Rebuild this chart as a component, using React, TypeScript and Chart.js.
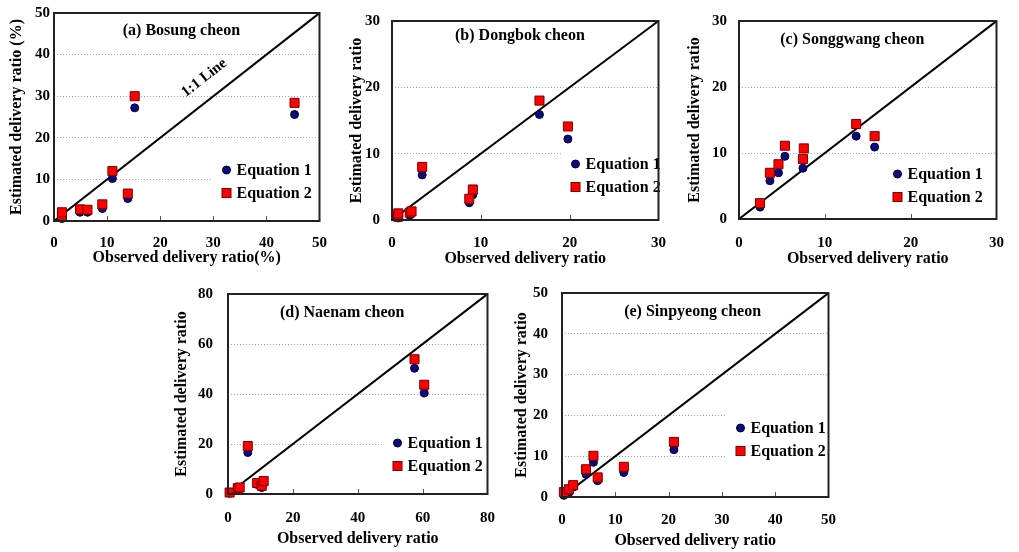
import React, { useEffect, useRef } from "react";
import { Chart, registerables } from "chart.js";
Chart.register(...registerables);

// ---------- DATA ----------
// (a) Bosung cheon
const bosungObserved = [1.5, 1.5, 4.9, 6.3, 9.1, 11.0, 13.9, 15.2, 45.3];
const bosungEq1 = [0.6, 1.0, 2.1, 2.1, 3.0, 10.2, 5.4, 27.2, 25.6];
const bosungEq2 = [1.3, 2.1, 2.8, 2.7, 4.0, 12.0, 6.6, 30.0, 28.4];
const bosungTicks = [0, 10, 20, 30, 40, 50];

// (b) Dongbok cheon
const dongbokObserved = [0.7, 0.7, 2.0, 2.2, 3.4, 8.7, 9.1, 16.6, 19.8];
const dongbokEq1 = [0.3, 0.6, 0.7, 1.0, 6.8, 2.6, 3.8, 15.9, 12.2];
const dongbokEq2 = [0.5, 1.0, 1.1, 1.3, 8.0, 3.2, 4.6, 18.0, 14.1];
const dongbokTicks = [0, 10, 20, 30];

// (c) Songgwang cheon
const songgwangObserved = [2.45, 3.6, 4.6, 5.35, 7.45, 7.55, 13.65, 15.8];
const songgwangEq1 = [1.8, 5.8, 7.0, 9.5, 7.7, 9.2, 12.55, 10.9];
const songgwangEq2 = [2.4, 7.0, 8.3, 11.1, 9.1, 10.7, 14.4, 12.55];
const songgwangTicks = [0, 10, 20, 30];

// (d) Naenam cheon
const naenamObserved = [0.5, 3.0, 3.6, 6.1, 9.0, 10.4, 11.0, 57.5, 60.5];
const naenamEq1 = [0.3, 1.8, 2.2, 16.6, 3.8, 2.6, 4.2, 50.3, 40.4];
const naenamEq2 = [0.6, 2.3, 2.6, 19.2, 4.4, 3.3, 5.2, 53.9, 43.7];
const naenamTicks = [0, 20, 40, 60, 80];

// (e) Sinpyeong cheon
const sinpyeongObserved = [0.35, 1.3, 2.1, 4.5, 5.9, 6.7, 11.6, 21.0];
const sinpyeongEq1 = [0.4, 1.1, 2.4, 5.6, 8.5, 4.0, 6.0, 11.6];
const sinpyeongEq2 = [1.2, 1.9, 2.9, 6.8, 10.1, 4.8, 7.4, 13.5];
const sinpyeongTicks = [0, 10, 20, 30, 40, 50];

const seriesLabels = ["Equation 1", "Equation 2"];
const lineLabel = "1:1 Line";
const xTitle = "Observed delivery ratio";
const yTitle = "Estimated delivery ratio";

// ---------- LAYOUT / STYLE ----------
const FONT = "'Liberation Serif', 'DejaVu Serif', serif";

type PanelSpec = {
  title: string;
  observed: number[];
  eq1: number[];
  eq2: number[];
  ticks: number[];
  xTitle: string;
  yTitle: string;
  box: { left: number; top: number; width: number; height: number };
  padTop: number;
  padRight: number;
  yWidth: number;
  xHeight: number;
  yTitlePad: number;
  yTickPad: number;
  xTickPad: number;
  xTitlePad: number;
  titleFrac: number;
  titleDy: number;
  legendDx: number;
  legendDy: number;
  lineLabelAt?: [number, number];
};

const panels: PanelSpec[] = [
  {
    title: "(a) Bosung cheon",
    observed: bosungObserved, eq1: bosungEq1, eq2: bosungEq2, ticks: bosungTicks,
    xTitle: xTitle + "(%)", yTitle: yTitle + " (%)",
    box: { left: 0, top: 0, width: 340, height: 270 },
    padTop: 12, padRight: 5, yWidth: 54, xHeight: 49,
    yTitlePad: 7, yTickPad: 4, xTickPad: 13, xTitlePad: 3,
    titleFrac: 0.48, titleDy: 18, legendDx: 93, legendDy: 51,
    lineLabelAt: [28.3, 34.4],
  },
  {
    title: "(b) Dongbok cheon",
    observed: dongbokObserved, eq1: dongbokEq1, eq2: dongbokEq2, ticks: dongbokTicks,
    xTitle, yTitle,
    box: { left: 340, top: 0, width: 340, height: 270 },
    padTop: 10, padRight: 5, yWidth: 52, xHeight: 50,
    yTitlePad: 7, yTickPad: 12, xTickPad: 14, xTitlePad: 2,
    titleFrac: 0.48, titleDy: 15, legendDx: 83, legendDy: 56,
  },
  {
    title: "(c) Songgwang cheon",
    observed: songgwangObserved, eq1: songgwangEq1, eq2: songgwangEq2, ticks: songgwangTicks,
    xTitle, yTitle,
    box: { left: 680, top: 0, width: 339, height: 270 },
    padTop: 13, padRight: 6, yWidth: 59, xHeight: 51,
    yTitlePad: 5, yTickPad: 12, xTickPad: 15, xTitlePad: 2,
    titleFrac: 0.44, titleDy: 19, legendDx: 99, legendDy: 45,
  },
  {
    title: "(d) Naenam cheon",
    observed: naenamObserved, eq1: naenamEq1, eq2: naenamEq2, ticks: naenamTicks,
    xTitle, yTitle,
    box: { left: 170, top: 270, width: 340, height: 282 },
    padTop: 20, padRight: 7, yWidth: 58, xHeight: 58,
    yTitlePad: 2, yTickPad: 15, xTickPad: 15, xTitlePad: 4,
    titleFrac: 0.44, titleDy: 19, legendDx: 90, legendDy: 51,
  },
  {
    title: "(e) Sinpyeong cheon",
    observed: sinpyeongObserved, eq1: sinpyeongEq1, eq2: sinpyeongEq2, ticks: sinpyeongTicks,
    xTitle, yTitle,
    box: { left: 505, top: 270, width: 345, height: 282 },
    padTop: 21, padRight: 5, yWidth: 57, xHeight: 55,
    yTitlePad: 7, yTickPad: 14, xTickPad: 14, xTitlePad: 2,
    titleFrac: 0.49, titleDy: 19, legendDx: 88, legendDy: 69,
  },
];

const EQ1_FILL = "#0b0b7a";
const EQ1_BORDER = "#00003a";
const EQ2_FILL = "#ff0000";
const EQ2_BORDER = "#7a0000";

function drawMarker(ctx: CanvasRenderingContext2D, kind: "circle" | "rect", x: number, y: number) {
  ctx.save();
  ctx.lineWidth = 1;
  if (kind === "circle") {
    ctx.fillStyle = EQ1_FILL;
    ctx.strokeStyle = EQ1_BORDER;
    ctx.beginPath();
    ctx.arc(x, y, 4, 0, Math.PI * 2);
    ctx.fill();
    ctx.stroke();
  } else {
    ctx.fillStyle = EQ2_FILL;
    ctx.strokeStyle = EQ2_BORDER;
    ctx.fillRect(x - 4.5, y - 4.5, 9, 9);
    ctx.strokeRect(x - 4.5, y - 4.5, 9, 9);
  }
  ctx.restore();
}

function makeDecor(p: PanelSpec) {
  return {
    id: "decor",
    beforeDatasetsDraw(chart: any) {
      const { ctx, chartArea: a, scales } = chart;
      const xs = scales.x;
      ctx.save();
      ctx.strokeStyle = "#555";
      ctx.lineWidth = 1;
      p.ticks.forEach((t, i) => {
        if (i === 0 || i === p.ticks.length - 1) return;
        const px = Math.round(xs.getPixelForValue(t)) + 0.5;
        ctx.beginPath();
        ctx.moveTo(px, a.bottom);
        ctx.lineTo(px, a.bottom - 5);
        ctx.stroke();
      });
      ctx.restore();
    },
    afterDatasetsDraw(chart: any) {
      const { ctx, chartArea: a, scales } = chart;
      ctx.save();
      // legend
      const mx = a.right - p.legendDx;
      const my1 = a.bottom - p.legendDy;
      const my2 = my1 + 23;
      ctx.fillStyle = "#fff";
      ctx.fillRect(mx - 14, my1 - 13, a.right - (mx - 14) - 1, my2 - my1 + 26);
      drawMarker(ctx, "circle", mx, my1);
      drawMarker(ctx, "rect", mx, my2);
      ctx.fillStyle = "#000";
      ctx.font = `bold 16px ${FONT}`;
      ctx.textAlign = "left";
      ctx.textBaseline = "middle";
      ctx.fillText(seriesLabels[0], mx + 10, my1 + 1);
      ctx.fillText(seriesLabels[1], mx + 10, my2 + 1);
      // panel title
      ctx.textAlign = "center";
      ctx.fillText(p.title, a.left + (a.right - a.left) * p.titleFrac, a.top + p.titleDy);
      // 1:1 label
      if (p.lineLabelAt) {
        const xs = scales.x, ys = scales.y;
        const ang = Math.atan2(
          ys.getPixelForValue(p.ticks[p.ticks.length - 1]) - ys.getPixelForValue(0),
          xs.getPixelForValue(p.ticks[p.ticks.length - 1]) - xs.getPixelForValue(0)
        );
        ctx.translate(xs.getPixelForValue(p.lineLabelAt[0]), ys.getPixelForValue(p.lineLabelAt[1]));
        ctx.rotate(ang);
        ctx.font = `bold 15px ${FONT}`;
        ctx.fillText(lineLabel, 0, 0);
        ctx.setTransform(1, 0, 0, 1, 0, 0);
      }
      // frame
      ctx.strokeStyle = "#222";
      ctx.lineWidth = 2;
      ctx.strokeRect(a.left, a.top, a.right - a.left, a.bottom - a.top);
      ctx.restore();
    },
  };
}

function makeConfig(p: PanelSpec): any {
  const max = p.ticks[p.ticks.length - 1];
  const step = p.ticks[1] - p.ticks[0];
  const tickFont = { family: FONT, size: 15, weight: "bold" as const };
  const titleFont = { family: FONT, size: 16, weight: "bold" as const };
  return {
    type: "scatter",
    data: {
      datasets: [
        {
          label: seriesLabels[1],
          data: p.observed.map((x, i) => ({ x, y: p.eq2[i] })),
          pointStyle: "rect",
          pointRadius: 6.4,
          backgroundColor: EQ2_FILL,
          borderColor: EQ2_BORDER,
          borderWidth: 1,
          order: 0,
          clip: false,
        },
        {
          label: seriesLabels[0],
          data: p.observed.map((x, i) => ({ x, y: p.eq1[i] })),
          pointStyle: "circle",
          pointRadius: 4,
          backgroundColor: EQ1_FILL,
          borderColor: EQ1_BORDER,
          borderWidth: 1,
          order: 1,
          clip: false,
        },
        {
          type: "line",
          label: lineLabel,
          data: [
            { x: p.ticks[0], y: p.ticks[0] },
            { x: max, y: max },
          ],
          borderColor: "#000",
          borderWidth: 2,
          pointRadius: 0,
          fill: false,
          order: 2,
        },
      ],
    },
    options: {
      responsive: false,
      animation: false,
      events: [],
      layout: { padding: { left: 0, top: p.padTop, right: p.padRight, bottom: 0 } },
      plugins: { legend: { display: false }, tooltip: { enabled: false } },
      scales: {
        x: {
          type: "linear",
          min: 0,
          max,
          ticks: { stepSize: step, font: tickFont, color: "#000", padding: p.xTickPad, maxRotation: 0 },
          grid: { drawOnChartArea: false, drawTicks: false },
          border: { display: false },
          title: { display: true, text: p.xTitle, font: titleFont, color: "#000", padding: { top: 0, bottom: p.xTitlePad } },
          afterFit: (s: any) => { s.height = p.xHeight; },
        },
        y: {
          type: "linear",
          min: 0,
          max,
          ticks: { stepSize: step, font: tickFont, color: "#000", padding: p.yTickPad },
          grid: {
            drawTicks: false,
            color: (c: any) => (c.tick && c.tick.value > 0 && c.tick.value < max ? "#a8a8a8" : "rgba(0,0,0,0)"),
            lineWidth: 1,
          },
          border: { display: false, dash: [1, 2] },
          title: { display: true, text: p.yTitle, font: titleFont, color: "#000", padding: { top: p.yTitlePad, bottom: 0 } },
          afterFit: (s: any) => { s.width = p.yWidth; },
        },
      },
    },
    plugins: [makeDecor(p)],
  };
}

function Panel({ spec }: { spec: PanelSpec }) {
  const ref = useRef<HTMLCanvasElement | null>(null);
  useEffect(() => {
    if (!ref.current) return;
    const chart = new Chart(ref.current, makeConfig(spec));
    return () => chart.destroy();
  }, [spec]);
  return (
    <canvas
      ref={ref}
      width={spec.box.width}
      height={spec.box.height}
      style={{
        position: "absolute",
        left: spec.box.left,
        top: spec.box.top,
        width: spec.box.width,
        height: spec.box.height,
      }}
    />
  );
}

export default function App() {
  return (
    <div
      style={{
        position: "fixed",
        left: 0,
        top: 0,
        width: 1019,
        height: 552,
        background: "#fff",
        overflow: "hidden",
      }}
    >
      {panels.map((p) => (
        <Panel key={p.title} spec={p} />
      ))}
    </div>
  );
}
